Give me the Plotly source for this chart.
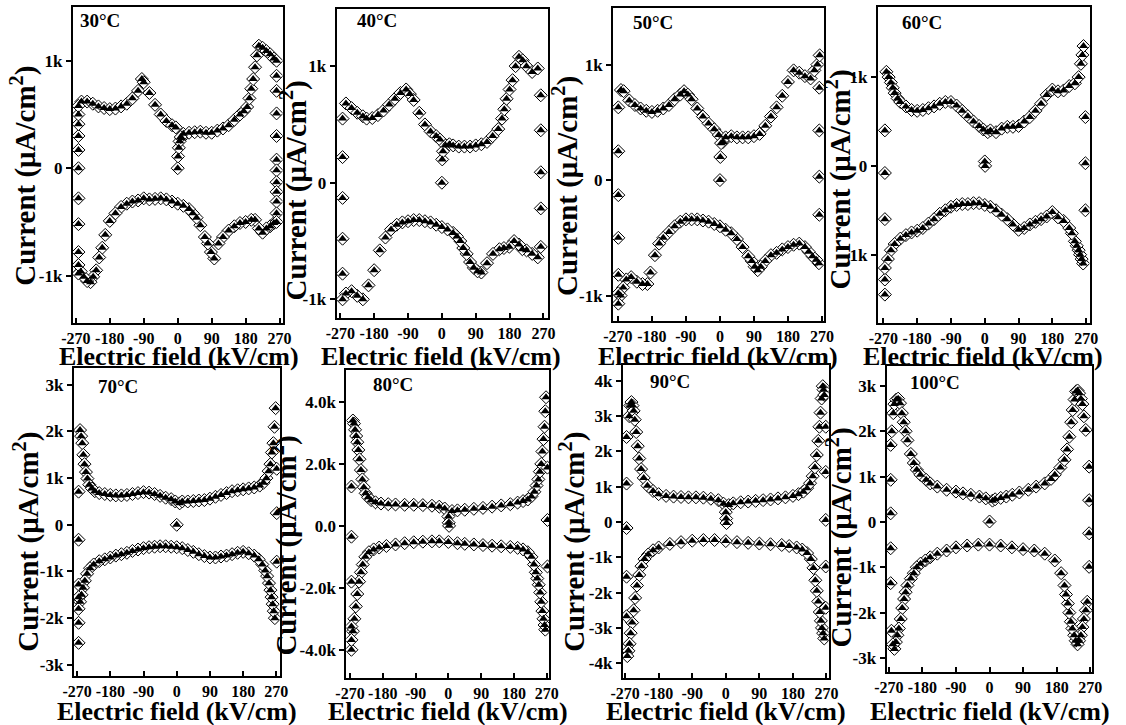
import plotly.graph_objects as go

W, H = 1126, 725
FONT = "Liberation Serif, Times New Roman, serif"

# ---------------- data (E in kV/cm, I in uA/cm^2) ----------------
# 30 C
E30_up = [-255,-240,-225,-210,-195,-180,-165,-150,-135,-120,-105,-95,-90,-75,-60,-45,-30,-15,-5,
          10,15,30,45,60,75,90,105,120,135,150,165,175,184,190,195,200,205,210,215,225,235,245,255]
I30_up = [620,620,600,575,560,550,555,575,600,650,720,830,800,700,590,500,440,400,380,
          280,320,330,335,340,330,330,350,370,400,450,500,530,570,650,740,830,940,1050,1140,1120,1090,1060,1020]
E30_lo = [255,245,235,225,215,205,195,180,165,150,135,120,108,97,88,80,72,60,50,40,30,15,0,
          -15,-30,-45,-60,-75,-90,-105,-120,-135,-150,-165,-180,-192,-200,-208,-216,-224,-231,-240,-249,-257]
I30_lo = [-510,-540,-560,-600,-560,-480,-480,-500,-510,-540,-580,-640,-700,-840,-780,-700,-640,-530,-460,-420,-380,-350,-330,
          -310,-290,-280,-285,-290,-280,-300,-310,-330,-360,-420,-490,-620,-740,-830,-950,-1010,-1060,-1050,-1010,-960]
E30_sw = [0,1,3,5,8,
          -263,-263,-263,-263,-263,-263,-263,-263,-263,-263,-263,
          262,262,262,262,262,262,262,262,262,262,262,262]
I30_sw = [0,110,190,250,290,
          -980,-900,-780,-520,-280,0,170,300,410,500,580,
          1000,860,720,510,300,80,-20,-130,-220,-310,-420,-500]

# 40 C
E40_up = [-255,-240,-225,-210,-200,-185,-170,-155,-140,-125,-110,-95,-85,-75,-60,-45,-30,-15,-5,
          10,20,30,45,60,75,90,105,120,135,150,160,166,172,180,188,196,205,215,225,240,255]
I40_up = [680,640,600,570,550,555,580,620,670,720,770,800,760,710,600,500,440,400,370,
          320,330,320,310,310,310,320,330,350,400,460,550,630,720,800,880,1000,1080,1050,1000,950,980]
E40_lo = [255,240,225,214,205,192,179,165,153,136,120,105,95,85,75,66,57,49,40,30,15,0,
          -15,-30,-45,-60,-75,-90,-105,-120,-135,-150,-165,-180,-195,-210,-225,-240,-255]
I40_lo = [-640,-610,-580,-570,-530,-500,-550,-560,-570,-610,-690,-770,-760,-730,-680,-610,-560,-500,-460,-430,-400,-380,
          -360,-340,-330,-320,-320,-330,-340,-360,-400,-470,-580,-750,-880,-1000,-970,-930,-950]
E40_sw = [0,1,3,
          -264,-264,-264,-264,-264,-264,
          263,263,263,263,263]
I40_sw = [0,200,270,
          -1000,-780,-480,-130,220,550,
          750,450,90,-220,-550]

# 50 C
E50_up = [-262,-255,-240,-225,-210,-195,-180,-165,-150,-135,-120,-105,-95,-85,-75,-60,-45,-30,-15,-3,
          8,15,30,45,60,75,90,105,120,135,150,165,180,195,210,225,240,250,258,264]
I50_up = [780,770,690,650,620,600,590,600,620,650,700,740,770,740,700,620,550,490,440,390,
          330,370,380,370,370,370,380,400,470,550,630,730,850,950,930,900,880,950,1000,1080]
E50_lo = [262,255,245,235,225,210,195,180,165,150,135,120,108,100,92,84,75,60,45,30,15,0,
          -15,-30,-45,-60,-75,-90,-105,-120,-135,-150,-161,-172,-184,-192,-205,-220,-235,-248,-256,-263]
I50_lo = [-720,-690,-660,-620,-580,-550,-560,-580,-600,-630,-650,-700,-750,-780,-750,-700,-660,-580,-510,-460,-430,-400,
          -380,-360,-350,-340,-340,-340,-360,-400,-450,-500,-550,-650,-800,-900,-900,-880,-840,-860,-930,-1000]
E50_sw = [0,1,3,
          -269,-269,-269,-269,-269,-269,-269,
          263,263,263,263]
I50_sw = [0,200,320,
          -1070,-980,-820,-500,-130,250,630,
          800,430,30,-300]

# 60 C
E60_up = [-262,-256,-250,-245,-240,-232,-225,-210,-195,-180,-165,-150,-135,-120,-105,-90,-75,-60,-45,-30,-15,-4,
          8,15,30,45,60,75,90,105,120,135,150,165,180,195,210,225,240,250,256,260,263]
I60_up = [1060,1000,940,880,820,760,720,670,630,620,630,650,670,700,720,720,680,620,560,500,450,410,
          380,400,380,420,440,440,450,500,550,620,700,800,860,840,850,900,930,1000,1150,1250,1350]
E60_lo = [262,258,254,250,245,240,232,225,210,195,180,165,150,135,120,105,90,75,60,45,30,15,0,
          -15,-30,-45,-60,-75,-90,-105,-120,-135,-150,-165,-180,-195,-210,-225,-240,-250,-258]
I60_lo = [-1100,-1050,-1000,-950,-900,-850,-760,-700,-620,-580,-520,-570,-600,-630,-660,-700,-720,-660,-600,-550,-500,-460,-440,
          -420,-420,-430,-430,-440,-460,-500,-540,-600,-650,-700,-730,-750,-780,-820,-880,-950,-1050]
E60_sw = [0,1,
          -266,-266,-266,-266,-266,-266,
          268,268,268]
I60_sw = [50,0,
          -1450,-1280,-1150,-600,-80,400,
          550,30,-500]

# 70 C
E70_up = [-262,-259,-256,-253,-250,-246,-242,-237,-230,-222,-210,-195,-180,-165,-150,-135,-120,-105,-90,-75,
          -60,-45,-30,-15,-4,8,15,30,45,60,75,90,105,120,135,150,165,180,195,210,
          225,235,243,249,254,258,262,265,268]
I70_up = [2030,1900,1750,1500,1300,1130,990,860,780,720,680,660,640,630,630,640,660,680,700,690,
          660,620,580,550,500,460,500,500,510,520,530,560,600,640,680,720,740,760,780,800,
          840,900,1000,1150,1300,1550,1750,2100,2500]
E70_lo = [266,263,260,257,254,250,245,240,232,222,210,195,180,165,150,135,120,105,90,75,
          60,45,30,15,0,-15,-30,-45,-60,-75,-90,-105,-120,-135,-150,-165,-180,-195,-210,-225,
          -235,-243,-249,-254,-258,-262]
I70_lo = [-2000,-1850,-1700,-1550,-1400,-1250,-1100,-980,-850,-740,-660,-610,-580,-600,-630,-660,-680,-700,-700,-670,
          -630,-580,-540,-500,-480,-470,-460,-460,-470,-480,-500,-530,-560,-600,-630,-660,-700,-740,-780,-850,
          -930,-1050,-1200,-1350,-1500,-1650]
E70_sw = [0,
          -266,-266,-266,-266,-266,-266,-266,
          271,271,271]
I70_sw = [0,
          -2530,-2100,-1800,-1550,-1280,-320,710,
          1200,250,-790]

# 80 C
E80_up = [-262,-259,-256,-253,-250,-247,-244,-240,-236,-232,-227,-220,-212,-200,-185,-165,-145,-120,-95,-70,
          -45,-25,-10,10,25,45,70,95,120,145,170,190,205,218,228,236,242,247,251,255,
          258,261,264,266,268]
I80_up = [3400,3300,3100,2900,2700,2450,2150,1800,1500,1250,1050,920,830,760,720,700,690,680,680,670,
          650,620,560,480,500,520,550,580,620,660,700,750,800,850,950,1100,1300,1500,1750,2000,
          2400,2800,3200,3700,4150]
E80_lo = [266,264,261,258,255,252,248,244,240,235,228,218,205,190,170,145,120,95,70,45,
          25,0,-25,-45,-70,-95,-120,-145,-170,-190,-205,-218,-228,-235,-240,-245,-250,-254,-258,-262]
I80_lo = [-3350,-3200,-3000,-2750,-2450,-2150,-1900,-1700,-1500,-1250,-1000,-850,-760,-710,-680,-660,-640,-620,-600,-580,
          -560,-520,-500,-500,-510,-530,-560,-600,-650,-700,-760,-850,-1000,-1250,-1500,-1800,-2200,-2600,-3000,-3400]
E80_sw = [0,1,2,
          -266,-266,-266,-266,-266,-266,
          272,272,272]
I80_sw = [300,100,0,
          -4000,-3680,-3250,-1800,-350,1270,
          1880,190,-1310]

# 90 C
E90_up = [-259,-256,-253,-250,-247,-244,-240,-236,-232,-227,-220,-210,-195,-180,-160,-140,-120,-100,-80,-60,
          -40,-20,-6,8,20,40,60,80,100,120,140,160,180,195,208,218,226,233,239,244,
          248,251,254,257,260,262,264]
I90_up = [3000,3300,3400,3300,3150,2900,2550,2150,1800,1500,1250,1030,880,790,740,720,710,700,700,690,
          660,620,520,480,530,560,580,600,620,640,670,700,740,790,860,960,1100,1300,1550,1900,
          2300,2700,3100,3500,3850,3750,3600]
E90_lo = [264,261,258,255,252,248,244,240,235,228,218,205,190,170,150,120,90,60,30,0,
          -30,-60,-90,-120,-150,-180,-195,-208,-218,-226,-232,-238,-243,-247,-251,-255,-258,-261,-264]
I90_lo = [-3300,-3150,-3000,-2800,-2550,-2250,-1950,-1650,-1300,-1050,-880,-780,-720,-680,-650,-630,-610,-590,-570,-540,
          -510,-510,-530,-570,-620,-720,-800,-920,-1050,-1250,-1500,-1800,-2150,-2500,-2850,-3150,-3450,-3650,-3800]
E90_sw = [0,1,2,
          -266,-266,-266,-266,-266,
          268,268,268,268,268]
I90_sw = [280,100,-30,
          -2670,-1550,-170,1090,2410,
          2700,1420,60,-1260,-2430]

# 100 C
E100_up = [-262,-258,-255,-250,-245,-240,-235,-230,-225,-220,-211,-203,-195,-185,-170,-159,-140,-115,-90,-71,
           -50,-27,-10,8,15,30,45,61,80,104,125,148,165,175,190,201,208,214,219,223,
           228,232,236,240,245,249,253,258]
I100_up = [2000,2400,2600,2700,2720,2620,2400,2200,2000,1800,1500,1300,1150,1040,930,850,780,710,670,630,
           600,560,520,470,500,530,560,600,650,710,780,850,950,1040,1200,1370,1600,1880,2200,2470,
           2700,2880,2900,2840,2720,2600,2330,2030]
E100_lo = [262,258,253,249,245,240,236,231,227,222,218,214,210,205,201,192,175,148,120,90,
           60,30,0,-30,-60,-90,-115,-140,-159,-172,-185,-195,-203,-211,-220,-225,-229,-234,-238,-243,
           -247,-251,-255,-259,-263]
I100_lo = [-1760,-1950,-2140,-2320,-2500,-2620,-2700,-2620,-2500,-2350,-2200,-2000,-1800,-1600,-1400,-1130,-850,-700,-630,-600,
           -560,-520,-500,-500,-520,-560,-630,-700,-780,-850,-920,-1000,-1130,-1250,-1400,-1550,-1700,-1900,-2140,-2350,
           -2500,-2650,-2800,-2700,-2400]
E100_sw = [0,
           -265,-265,-265,-265,-265,
           267,267,267,267]
I100_sw = [10,
           -1350,-580,190,930,1700,
           1220,480,-250,-990]

labels = ["30°C", "40°C", "50°C", "60°C", "70°C", "80°C", "90°C", "100°C"]
x_ticks = [-270, -180, -90, 0, 90, 180, 270]
x_ticktext = ["-270", "-180", "-90", "0", "90", "180", "270"]
y_ticks_small = [-1000, 0, 1000]
y_text_small = ["-1k", "0", "1k"]
y_ticks_3k = [-3000, -2000, -1000, 0, 1000, 2000, 3000]
y_text_3k = ["-3k", "-2k", "-1k", "0", "1k", "2k", "3k"]
y_ticks_80 = [-4000, -2000, 0, 2000, 4000]
y_text_80 = ["-4.0k", "-2.0k", "0.0", "2.0k", "4.0k"]
y_ticks_90 = [-4000, -3000, -2000, -1000, 0, 1000, 2000, 3000, 4000]
y_text_90 = ["-4k", "-3k", "-2k", "-1k", "0", "1k", "2k", "3k", "4k"]

series = [
    (E30_up, I30_up, E30_lo, I30_lo, E30_sw, I30_sw),
    (E40_up, I40_up, E40_lo, I40_lo, E40_sw, I40_sw),
    (E50_up, I50_up, E50_lo, I50_lo, E50_sw, I50_sw),
    (E60_up, I60_up, E60_lo, I60_lo, E60_sw, I60_sw),
    (E70_up, I70_up, E70_lo, I70_lo, E70_sw, I70_sw),
    (E80_up, I80_up, E80_lo, I80_lo, E80_sw, I80_sw),
    (E90_up, I90_up, E90_lo, I90_lo, E90_sw, I90_sw),
    (E100_up, I100_up, E100_lo, I100_lo, E100_sw, I100_sw),
]

# ---------------- layout geometry (pixels) ----------------
boxes = [(62, 276, 7, 323), (331, 547, 9, 318), (613, 828, 8, 321), (883, 1099, 7, 323),
         (63, 273, 368, 676), (341, 548, 370, 678), (623, 833, 365, 678), (892, 1102, 366, 672)]
xranges = [(-278, 278), (-280, 283), (-283, 275), (-285, 279),
           (-279, 279), (-280, 277), (-276, 276), (-276, 276)]
yranges = [(-1440, 1500), (-1160, 1490), (-1220, 1490), (-1770, 1790),
           (-3240, 3360), (-4910, 5030), (-4420, 4450), (-3310, 3440)]
yticks = [(y_ticks_small, y_text_small)] * 4 + [(y_ticks_3k, y_text_3k), (y_ticks_80, y_text_80),
                                                 (y_ticks_90, y_text_90), (y_ticks_3k, y_text_3k)]
label_pos = [(90, 21), (372, 21), (654, 22), (928, 22), (108, 386), (389, 384), (671, 381), (941, 382)]
ytitle_pos = [(12, 176), (287, 190), (564, 186), (842, 180), (14, 542), (277, 546), (571, 542), (843, 538)]
xtitle_pos = [(170, 356), (438, 356), (720, 356), (990, 356), (168, 711), (445, 711), (728, 711), (997, 711)]

fig = go.Figure()
annotations = []

for k in range(8):
    eu, iu, el, il, es, is_ = series[k]
    xs = eu + el + es
    ys = iu + il + is_
    ax = "" if k == 0 else str(k + 1)
    xa, ya = "x" + ax, "y" + ax
    fig.add_trace(go.Scatter(x=xs, y=ys, mode="markers", xaxis=xa, yaxis=ya, showlegend=False,
                             hoverinfo="skip",
                             marker=dict(symbol="diamond", size=10, color="white",
                                         line=dict(color="black", width=1))))
    fig.add_trace(go.Scatter(x=xs, y=ys, mode="markers", xaxis=xa, yaxis=ya, showlegend=False,
                             hoverinfo="skip",
                             marker=dict(symbol="triangle-up", size=8, color="black",
                                         line=dict(width=0))))
    x0, x1, y0, y1 = boxes[k]
    tv, tt = yticks[k]
    fig.update_layout(**{
        "xaxis" + ax: dict(domain=[x0 / W, x1 / W], anchor=ya, range=list(xranges[k]),
                           tickvals=x_ticks, ticktext=x_ticktext, ticks="inside", ticklen=5,
                           tickwidth=2, tickcolor="black", showline=True, linecolor="black",
                           linewidth=2, mirror=True, showgrid=False, zeroline=False,
                           tickangle=0,
                           tickfont=dict(family=FONT, size=16, color="black", weight="bold")),
        "yaxis" + ax: dict(domain=[1 - y1 / H, 1 - y0 / H], anchor=xa, range=list(yranges[k]),
                           tickvals=tv, ticktext=tt, ticks="outside", ticklen=5,
                           tickwidth=2, tickcolor="black", showline=True, linecolor="black",
                           linewidth=2, mirror=True, showgrid=False, zeroline=False,
                           tickfont=dict(family=FONT, size=17, color="black", weight="bold")),
    })
    lx, ly = label_pos[k]
    annotations.append(dict(text="<b>%s</b>" % labels[k], x=lx / W, y=1 - ly / H, xref="paper",
                            yref="paper", showarrow=False, xanchor="center", yanchor="middle",
                            font=dict(family=FONT, size=19, color="black")))
    tx, ty = ytitle_pos[k]
    annotations.append(dict(text="<b>Current (μA/cm<sup>2</sup>)</b>", x=tx / W, y=1 - ty / H,
                            xref="paper", yref="paper", showarrow=False, textangle=-90,
                            xanchor="center", yanchor="middle",
                            font=dict(family=FONT, size=29, color="black")))
    tx, ty = xtitle_pos[k]
    annotations.append(dict(text="<b>Electric field (kV/cm)</b>", x=tx / W, y=1 - ty / H,
                            xref="paper", yref="paper", showarrow=False,
                            xanchor="center", yanchor="middle",
                            font=dict(family=FONT, size=26, color="black")))

fig.update_layout(width=W, height=H, margin=dict(l=0, r=0, t=0, b=0),
                  paper_bgcolor="white", plot_bgcolor="white", annotations=annotations)

fig.write_html("out.html")
